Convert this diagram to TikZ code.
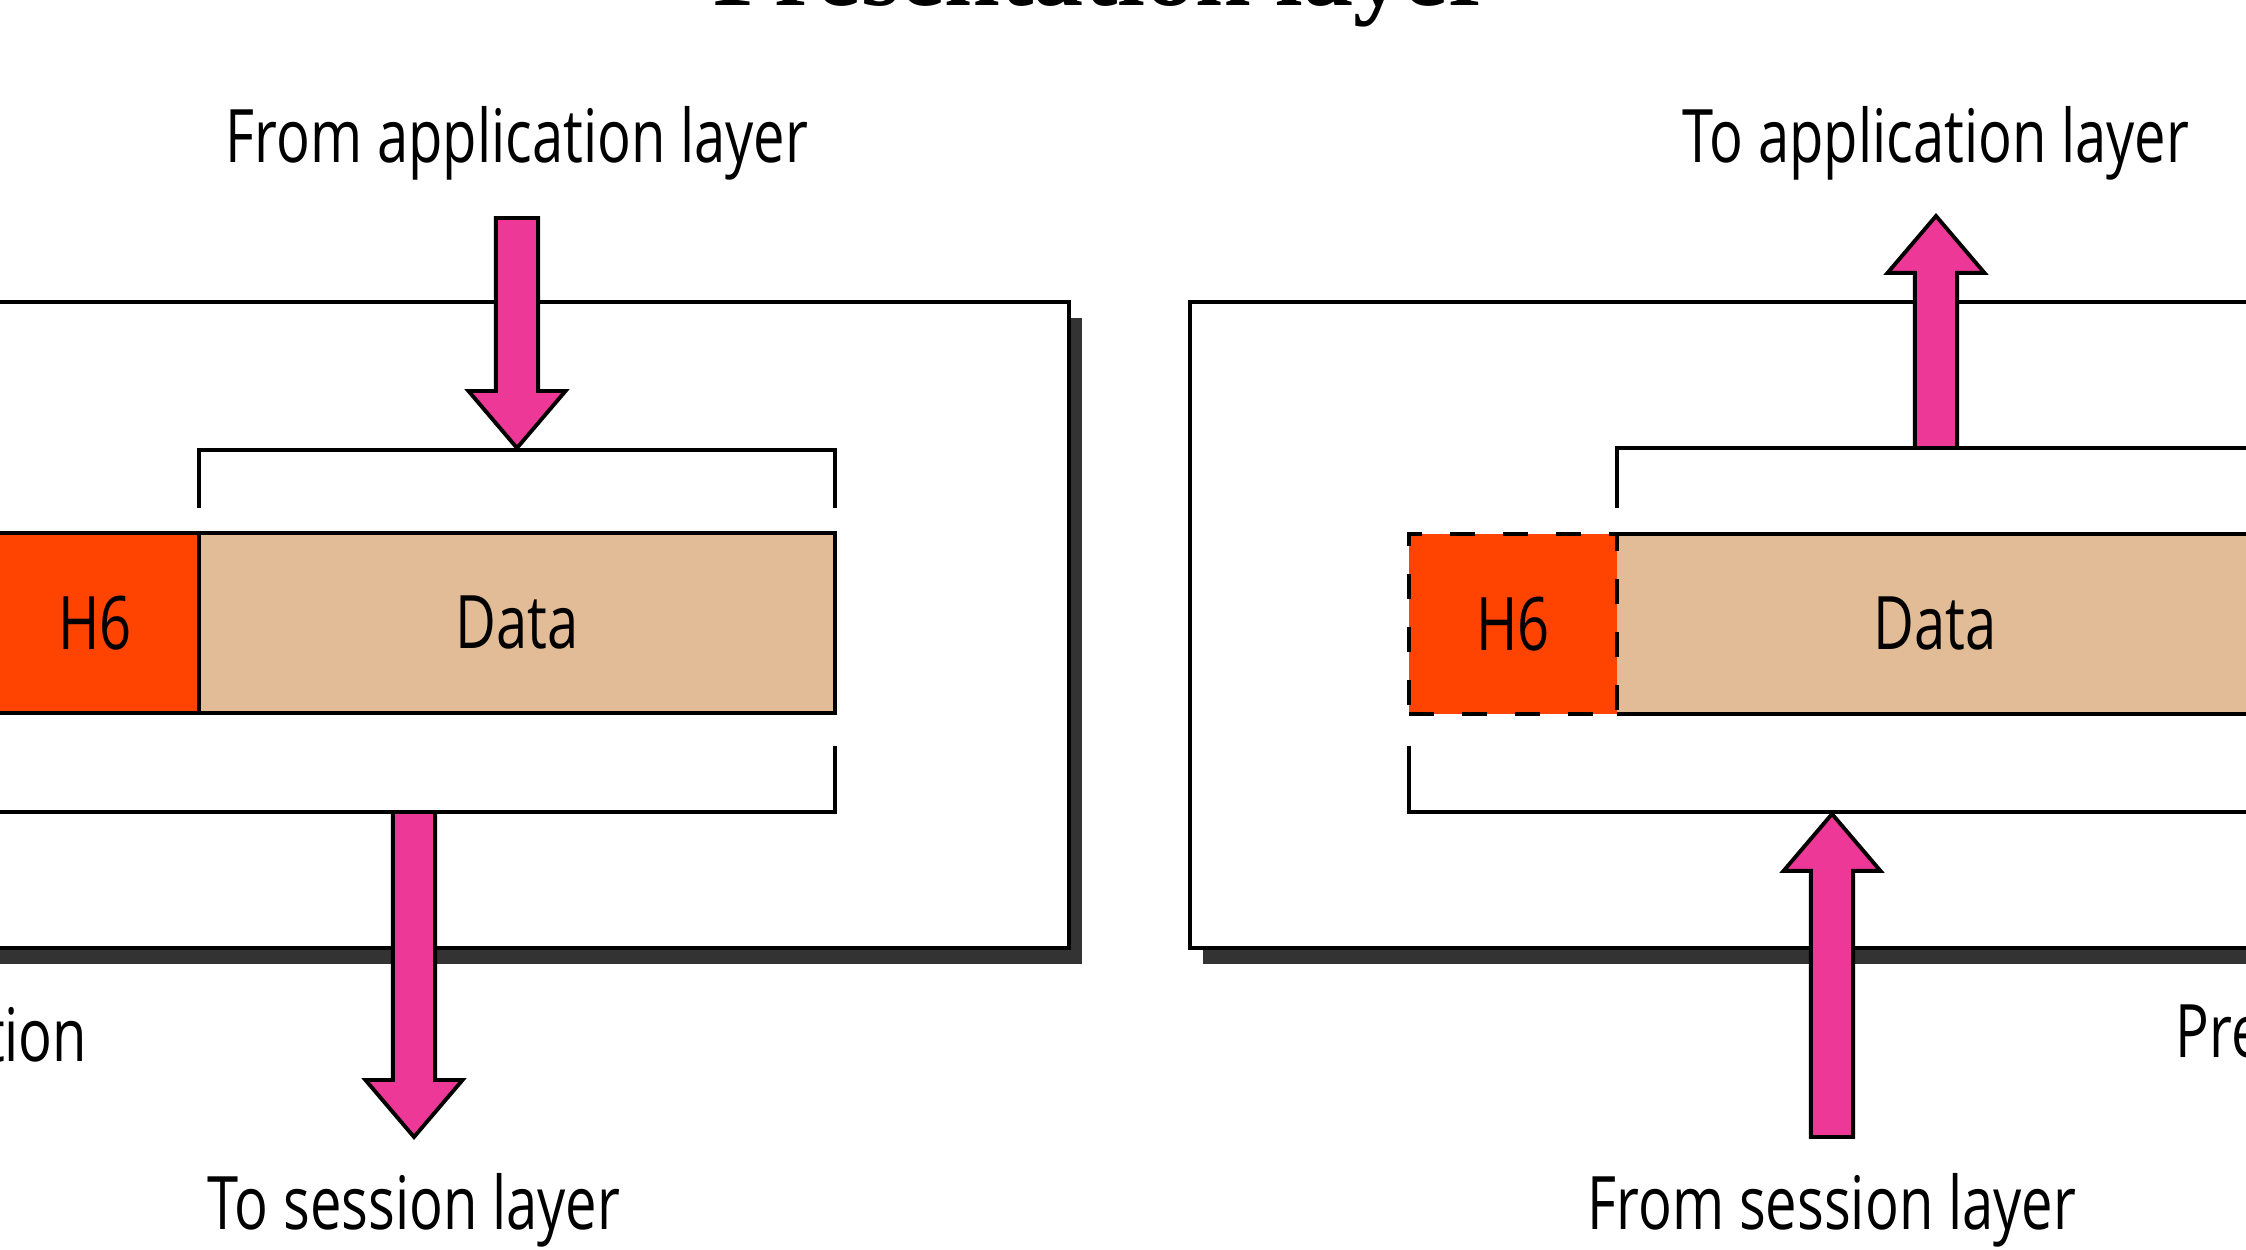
\documentclass[tikz,border=0pt]{standalone}
\usepackage{fontspec}
\newfontfamily\lblfont[FakeStretch=0.76]{Open Sans}
\newfontfamily\ttlfont{Liberation Serif}
\usetikzlibrary{calc}

\definecolor{hdrred}{RGB}{255,67,0}
\definecolor{datatan}{RGB}{226,188,150}
\definecolor{pipepink}{RGB}{238,56,152}
\definecolor{shadowgray}{RGB}{51,51,51}

\tikzset{
  lbl/.style={font=\lblfont\fontsize{21}{25}\selectfont, inner sep=0pt},
  ttl/.style={font=\ttlfont\bfseries\fontsize{28.5}{32}\selectfont, inner sep=0pt},
  panel/.style={draw, fill=white, line width=1.4pt},
  panelshadow/.style={fill=shadowgray},
  bracket/.style={line width=1.3pt},
  hdr/.style={lbl, fill=hdrred, minimum width=2.08cm, minimum height=1.8cm, outer sep=0pt},
  dat/.style={lbl, fill=datatan, minimum width=6.36cm, minimum height=1.8cm, outer sep=0pt},
  fatarrow/.style={draw=black, fill=pipepink, line width=1.1pt, line join=miter},
}

% block arrow from #1 (tail) to #2 (tip), vertical only
\newcommand\fatarrow[2]{%
  \draw[fatarrow] let \p1=(#1), \p2=(#2), \n1={\y2-sign((\y2)-(\y1))*16.2} in
    (\x1-6pt,\y1) -- (\x1-6pt,\n1*1pt) -- (\x1-13.8pt,\n1*1pt) -- (\x2,\y2)
    -- (\x1+13.8pt,\n1*1pt) -- (\x1+6pt,\n1*1pt) -- (\x1+6pt,\y1) -- cycle;}

\begin{document}
\begin{tikzpicture}[x=0.1mm,y=-0.1mm]
 \useasboundingbox (0,0) rectangle (2246,1250);
 \node[ttl,anchor=base] (title) at (1103,6) {Presentation layer};

 % sending side
 \fill[panelshadow] (-287,318) rectangle (1082,964);
 \draw[panel] (-300,302) rectangle (1069,948);
 \node[dat,draw,line width=1.3pt,anchor=north west] (datS) at (199,533) {Data};
 \node[hdr,draw,line width=1.3pt,anchor=north west] (hdrS) at (-9,533) {H6};
 \draw[bracket] (199,508) -- (199,450) -- (835,450) -- (835,508);
 \draw[bracket] (-9,746) -- (-9,812) -- (835,812) -- (835,746);

 \node[lbl,anchor=base] (fromApp) at (517,163) {From application layer};
 \node[lbl,anchor=base] (toSes) at (414,1230) {To session layer};
 \node[lbl,anchor=base east] (layS) at (88,1062) {tion};

 \coordinate (appS) at (517,218);
 \coordinate (appE) at (517,448);
 \coordinate (sesS) at (414,812);
 \coordinate (sesE) at (414,1137);
 \fatarrow{appS}{appE}
 \fatarrow{sesS}{sesE}

 % receiving side
 \fill[panelshadow] (1203,318) rectangle (2520,964);
 \draw[panel] (1190,302) rectangle (2510,948);
 \node[dat,anchor=north west] (datR) at (1617,534) {Data};
 \draw[line width=1.3pt] (datR.north west) -- (datR.north east) -- (datR.south east) -- (datR.south west);
 \node[hdr,draw,line width=1.3pt,dash pattern=on 2.5mm off 2.8mm,anchor=north west] (hdrR) at (1409,534) {H6};
 \draw[bracket] (1617,508) -- (1617,448) -- (2253,448) -- (2253,508);
 \draw[bracket] (1409,746) -- (1409,812) -- (2253,812) -- (2253,746);

 \node[lbl,anchor=base] (toApp) at (1936,163) {To application layer};
 \node[lbl,anchor=base] (fromSes) at (1832,1230) {From session layer};
 \node[lbl,anchor=base west] (layR) at (2175,1058) {Pre};

 \coordinate (rAppS) at (1936,448);
 \coordinate (rAppE) at (1936,216);
 \coordinate (rSesS) at (1832,1137);
 \coordinate (rSesE) at (1832,814);
 \fatarrow{rAppS}{rAppE}
 \fatarrow{rSesS}{rSesE}
\end{tikzpicture}
\end{document}
